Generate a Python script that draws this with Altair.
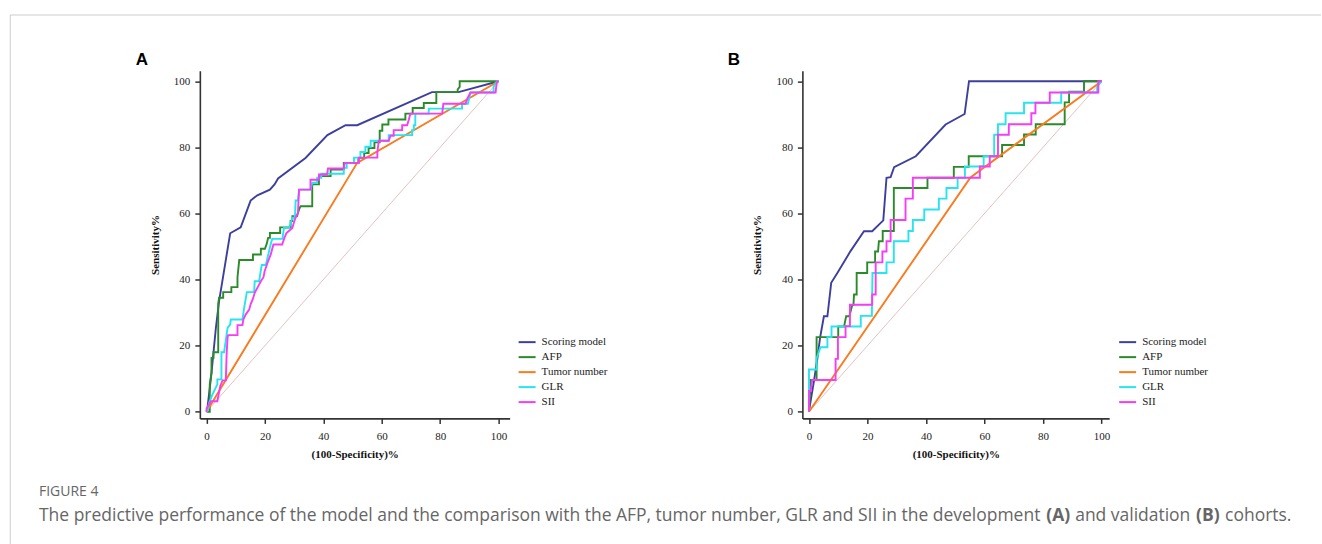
import altair as alt
import pandas as pd

SERIES = ["Scoring model", "AFP", "Tumor number", "GLR", "SII"]
COLORS = ["#3C409C", "#2B8B2B", "#FA7A1E", "#27E4EE", "#F53DF5"]
DIAG_COLOR = "#E2C2C2"
TICKS = [0, 20, 40, 60, 80, 100]
DIAGONAL = [(0, 0), (100, 100)]

# ---- Panel A (development cohort): (100-specificity, sensitivity) ----
A_SCORING = [(0, 0), (0.3, 1.0), (1.7, 11.8), (3.2, 25.4), (4.3, 33.5), (8.1, 54.0), (11.7, 55.8),
             (15.1, 63.9), (17.4, 65.5), (21.7, 67.2), (23.3, 68.8), (24.5, 70.6), (33.9, 76.8),
             (41.4, 83.7), (47.6, 86.7), (51.6, 86.7), (77.2, 96.7), (86.3, 96.7), (100, 100)]
A_AFP = [(0, 0), (1.1, 0), (1.1, 8.3), (1.7, 11.8), (1.7, 16.3), (2.4, 16.3), (2.4, 18.0), (4.0, 18.0),
         (4.0, 32.7), (4.3, 34.5), (5.7, 34.5), (5.7, 36.2), (8.5, 36.2), (8.5, 37.7), (10.6, 37.7),
         (10.6, 40.7), (11.2, 45.9), (15.9, 45.9), (15.9, 47.6), (18.6, 47.6), (18.6, 49.3), (20.0, 49.3),
         (20.6, 50.8), (21.1, 52.6), (21.7, 52.6), (21.7, 54.1), (25.2, 54.1), (25.2, 55.8), (28.8, 55.8),
         (28.8, 57.7), (29.4, 57.7), (29.4, 59.2), (31.0, 59.2), (31.7, 61.2), (32.2, 62.2), (36.2, 62.2),
         (36.2, 68.8), (38.5, 68.8), (38.5, 71.3), (42.5, 71.3), (42.5, 73.3), (47.0, 73.3), (47.0, 75.3),
         (52.0, 75.3), (52.0, 76.8), (54.0, 76.8), (54.0, 78.3), (55.5, 78.3), (55.5, 79.8), (57.5, 79.8),
         (57.5, 81.5), (59.3, 81.5), (59.3, 85.0), (60.2, 85.0), (60.2, 86.9), (62.3, 86.9), (62.3, 88.4),
         (68.1, 88.4), (68.1, 90.2), (70.6, 90.2), (70.6, 91.9), (74.4, 91.9), (74.4, 93.4), (78.7, 93.4),
         (78.7, 96.7), (86.0, 96.7), (86.0, 97.5), (86.7, 98.3), (86.7, 100), (100, 100)]
A_TUMOR = [(0, 0), (51.6, 75.3), (100, 100)]
A_GLR = [(0, 0), (0.3, 0.2), (0.9, 2.7), (2.0, 5.2), (3.7, 8.3), (3.7, 9.8), (5.1, 9.8), (5.1, 18.0),
         (6.0, 18.0), (7.2, 25.4), (8.1, 26.4), (8.3, 27.9), (12.3, 27.9), (12.9, 31.5), (13.8, 36.2),
         (16.3, 36.2), (16.5, 39.5), (18.0, 39.5), (18.9, 44.4), (20.3, 44.4), (22.0, 50.8), (22.5, 52.3),
         (26.0, 52.3), (26.5, 55.6), (28.3, 55.6), (28.8, 57.2), (29.5, 58.7), (30.3, 58.7), (30.5, 63.9),
         (31.3, 63.9), (31.7, 67.2), (35.6, 67.2), (36.2, 69.3), (37.9, 69.3), (37.9, 70.8), (39.3, 70.8),
         (39.3, 72.0), (47.0, 72.0), (47.0, 73.8), (48.0, 73.8), (48.0, 75.3), (50.5, 75.3), (50.5, 76.9),
         (52.7, 76.9), (52.7, 78.6), (54.4, 78.6), (54.4, 80.2), (56.2, 80.2), (56.2, 82.0), (62.4, 82.0),
         (62.4, 83.7), (70.4, 83.7), (70.4, 85.2), (71.0, 85.2), (71.0, 86.7), (71.5, 86.7), (71.5, 90.2),
         (76.1, 90.2), (76.1, 91.7), (87.5, 91.7), (87.5, 93.2), (89.5, 93.2), (90.4, 96.6), (98.3, 96.6),
         (98.3, 98.3), (99.5, 100), (100, 100)]
A_SII = [(0, 0), (0, 0.9), (1.5, 3.2), (3.7, 3.2), (4.7, 7.8), (5.5, 9.5), (6.6, 9.5), (6.9, 17.8),
         (7.2, 22.4), (7.4, 23.2), (10.6, 23.2), (10.6, 26.2), (12.3, 26.2), (12.6, 27.9), (13.4, 29.4),
         (14.6, 30.9), (15.1, 32.5), (15.9, 34.2), (16.5, 36.0), (17.4, 37.5), (18.6, 39.5), (19.5, 40.7),
         (19.9, 42.5), (21.1, 45.6), (22.0, 47.6), (22.9, 50.6), (25.9, 50.6), (26.7, 52.7), (27.4, 54.1),
         (29.4, 55.6), (29.9, 57.2), (30.5, 58.7), (31.3, 60.2), (31.7, 67.2), (35.6, 67.2), (35.6, 70.2),
         (38.5, 70.2), (38.5, 71.8), (41.3, 71.8), (41.6, 73.6), (47.0, 73.6), (47.3, 75.3), (52.2, 75.3),
         (52.2, 76.9), (58.5, 76.9), (58.5, 78.6), (59.0, 82.0), (62.4, 82.0), (63.0, 83.5), (64.1, 83.5),
         (64.1, 85.2), (67.0, 85.2), (67.0, 86.7), (68.7, 86.7), (69.3, 88.4), (69.8, 90.2), (80.7, 90.2),
         (81.1, 93.2), (88.7, 93.2), (89.3, 94.7), (90.4, 96.6), (99.0, 96.6), (99.2, 98.3), (99.5, 99.8),
         (100, 100)]

# ---- Panel B (validation cohort) ----
B_SCORING = [(0, 0), (0, 0.2), (1.7, 9.3), (2.9, 16.3), (3.8, 22.4), (5.1, 28.9), (6.3, 28.9), (7.6, 39.0),
             (9.7, 42.0), (14.2, 48.6), (18.8, 54.6), (21.6, 54.6), (25.4, 57.9), (26.5, 70.8), (27.9, 71.0),
             (29.1, 74.0), (36.5, 77.3), (46.7, 86.9), (53.2, 90.1), (54.7, 100), (100, 100)]
B_AFP = [(0, 0), (0.6, 9.6), (2.6, 9.6), (2.6, 22.6), (10.0, 22.6), (10.0, 25.8), (12.0, 25.8), (12.7, 28.9),
         (13.8, 28.9), (14.8, 32.3), (15.2, 32.3), (15.4, 35.5), (16.3, 35.5), (16.3, 42.0), (19.9, 42.0),
         (19.9, 45.2), (22.6, 45.2), (22.6, 48.5), (23.6, 48.5), (23.9, 51.6), (25.2, 51.6), (25.2, 54.7),
         (29.0, 54.7), (29.0, 67.7), (40.5, 67.7), (40.5, 70.8), (49.5, 70.8), (49.5, 74.1), (54.6, 74.1),
         (54.6, 77.3), (66.0, 77.3), (66.0, 80.7), (73.5, 80.7), (73.5, 83.9), (77.5, 83.9), (77.5, 87.0),
         (87.4, 87.0), (87.4, 93.6), (88.9, 93.6), (88.9, 96.8), (94.0, 96.8), (94.0, 100), (100, 100)]
B_TUMOR = [(0, 0), (55.2, 70.9), (100, 100)]
B_GLR = [(0, 0), (0, 12.8), (2.6, 12.8), (2.6, 16.1), (3.9, 19.5), (6.3, 19.5), (6.3, 22.6), (7.7, 22.6),
         (7.7, 25.8), (17.7, 25.8), (17.7, 29.0), (21.5, 29.0), (21.7, 42.0), (26.5, 42.0), (26.5, 45.2),
         (29.0, 45.2), (29.0, 51.6), (34.0, 51.6), (34.0, 54.7), (35.5, 54.7), (35.5, 58.0), (39.4, 58.0),
         (39.4, 61.2), (44.4, 61.2), (44.4, 64.5), (47.0, 64.5), (47.0, 67.7), (50.8, 67.7), (50.8, 70.8),
         (53.3, 70.8), (53.3, 74.2), (59.7, 74.2), (59.7, 77.3), (63.3, 77.3), (63.3, 83.8), (64.6, 83.8),
         (64.6, 87.0), (67.2, 87.0), (67.2, 90.3), (73.5, 90.3), (73.5, 93.5), (86.2, 93.5), (86.2, 96.6),
         (98.5, 96.6), (98.5, 98.3), (100, 100)]
B_SII = [(0, 0), (0, 6.3), (0.6, 6.3), (1.1, 9.6), (9.1, 9.6), (9.1, 16.0), (9.9, 16.0), (9.9, 22.6),
         (12.5, 22.6), (12.5, 25.9), (14.0, 25.9), (14.0, 32.4), (21.6, 32.4), (21.6, 35.5), (22.8, 35.5),
         (22.8, 45.2), (25.1, 45.2), (25.1, 48.5), (26.5, 48.5), (26.5, 51.6), (27.9, 51.6), (27.9, 58.0),
         (33.0, 58.0), (33.0, 64.5), (35.5, 64.5), (35.5, 70.8), (58.4, 70.8), (58.4, 74.2), (61.8, 74.2),
         (61.8, 77.3), (64.6, 77.3), (64.6, 83.8), (68.3, 83.8), (68.3, 87.0), (76.0, 87.0), (76.0, 90.3),
         (77.4, 90.3), (77.4, 93.5), (82.3, 93.5), (82.3, 96.6), (98.9, 96.6), (98.9, 100), (100, 100)]

CAPTION_HEAD = "FIGURE 4"
CAPTION_PARTS = [
    ("The predictive performance of the model and the comparison with the AFP, tumor number, GLR and SII in the development", "normal", -161),
    ("(A)", "bold", 847),
    ("and validation", "normal", 876),
    ("(B)", "bold", 997),
    ("cohorts.", "normal", 1026),
]


def series_df(points, name):
    return pd.DataFrame({
        "fpr": [p[0] for p in points],
        "sens": [p[1] for p in points],
        "idx": list(range(len(points))),
        "series": name,
    })


def panel(curves, xdomain, width, letter, letter_x, legend_x, extra=()):
    xs = alt.Scale(domain=xdomain, nice=False, zero=False)
    ys = alt.Scale(domain=[-2.0, 103.2], nice=False, zero=False)
    xax = alt.Axis(values=TICKS, title="(100-Specificity)%", labelPadding=7, titlePadding=7)
    yax = alt.Axis(values=TICKS, title="Sensitivity%", labelPadding=5, titlePadding=13)
    cscale = alt.Scale(domain=SERIES, range=COLORS)
    legend = alt.Legend(orient="none", legendX=legend_x, legendY=262.2, title=None,
                        symbolType="stroke", symbolSize=289, symbolStrokeWidth=2,
                        labelFont="Liberation Serif", labelFontSize=11, labelColor="#222",
                        labelOffset=5, rowPadding=-3.8, padding=0)
    X = alt.X("fpr:Q", scale=xs, axis=xax)
    Y = alt.Y("sens:Q", scale=ys, axis=yax)
    layers = [alt.Chart(series_df(DIAGONAL, "diag")).mark_line(color=DIAG_COLOR, strokeWidth=1)
              .encode(x=X, y=Y, order="idx:Q")]
    for name, pts in zip(SERIES, curves):
        layers.append(
            alt.Chart(series_df(pts, name)).mark_line(strokeWidth=1.9, strokeJoin="miter")
            .encode(x=X, y=Y, order="idx:Q",
                    color=alt.Color("series:N", scale=cscale, legend=legend))
        )
    layers.append(
        alt.Chart(pd.DataFrame({"t": [letter]})).mark_text(
            font="Liberation Sans", fontWeight="bold", fontSize=17, align="center",
            baseline="alphabetic", color="#000")
        .encode(text="t:N", x=alt.value(letter_x), y=alt.value(-5.7))
    )
    layers.extend(extra)
    return alt.layer(*layers).properties(width=width, height=348)


border = [
    alt.Chart(pd.DataFrame({"k": [0]})).mark_rule(color="#cccccc", strokeWidth=1)
    .encode(x=alt.value(-189.7), x2=alt.value(1122), y=alt.value(-55.7)),
    alt.Chart(pd.DataFrame({"k": [0]})).mark_rule(color="#cccccc", strokeWidth=1)
    .encode(x=alt.value(-189.7), y=alt.value(-55.7), y2=alt.value(474)),
]
caption = [
    alt.Chart(pd.DataFrame({"t": [CAPTION_HEAD]})).mark_text(
        font="Open Sans", fontSize=14, color="#666666", align="left", baseline="alphabetic")
    .encode(text="t:N", x=alt.value(-161), y=alt.value(426))
]
for txt, weight, xpos in CAPTION_PARTS:
    caption.append(
        alt.Chart(pd.DataFrame({"t": [txt]})).mark_text(
            font="Open Sans", fontSize=17.5, fontWeight=weight, color="#666666",
            align="left", baseline="alphabetic")
        .encode(text="t:N", x=alt.value(xpos), y=alt.value(450.5))
    )

chart_a = panel([A_SCORING, A_AFP, A_TUMOR, A_GLR, A_SII], [-2.29, 103.8], 310, "A", -58, 318,
                extra=border + caption)
chart_b = panel([B_SCORING, B_AFP, B_TUMOR, B_GLR, B_SII], [-2.25, 102.6], 307, "B", -68.5, 316)

chart = (
    alt.hconcat(chart_a, chart_b, spacing=293, bounds="flush")
    .resolve_scale(color="independent", x="independent", y="independent")
    .properties(padding={"left": 9, "top": 13.5, "right": 0, "bottom": 0}, background="white")
    .configure_view(stroke=None)
    .configure_axis(
        domainColor="#333333", domainWidth=1.6, tickColor="#333333", tickWidth=1.5, tickSize=5,
        labelFont="Liberation Serif", labelFontSize=11, labelColor="#222222",
        titleFont="Liberation Serif", titleFontSize=11, titleFontWeight="bold", titleColor="#111111",
        grid=False,
    )
)

chart.save("out.html", embed_options={"renderer": "svg", "actions": False})
